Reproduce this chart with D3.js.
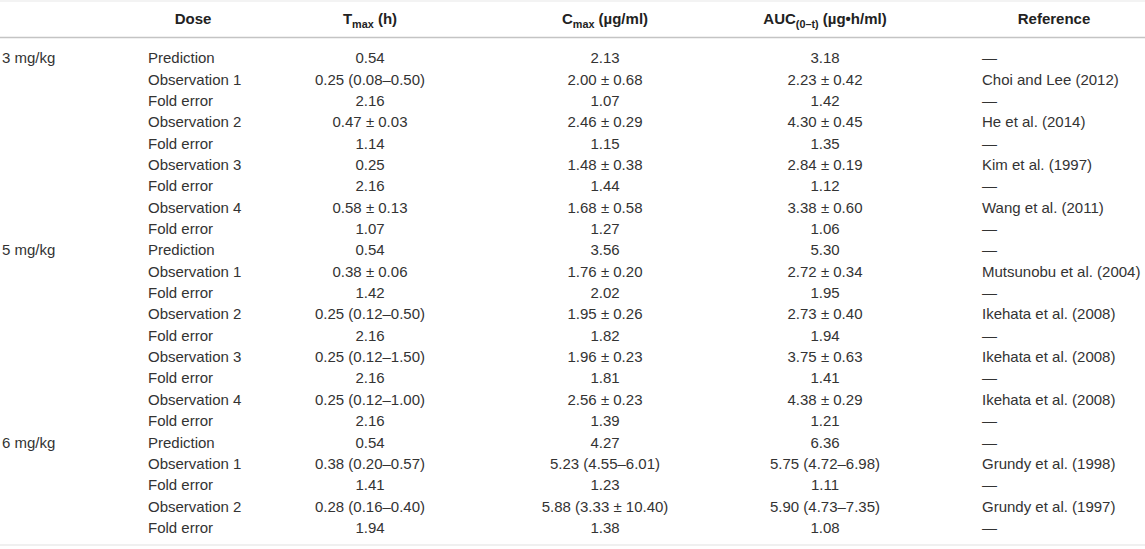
<!DOCTYPE html>
<html>
<head>
<meta charset="utf-8">
<script src="https://cdn.jsdelivr.net/npm/d3@7"></script>
<style>
  html, body { margin: 0; padding: 0; background: #fff; }
  svg text { font-family: "Liberation Sans", Arial, Helvetica, sans-serif; }
</style>
</head>
<body>
<svg id="t" width="1145" height="549"></svg>
<script>
// ---- data ----
const doseGroups = ["3 mg/kg", "", "", "", "", "", "", "", "",
                    "5 mg/kg", "", "", "", "", "", "", "", "",
                    "6 mg/kg", "", "", "", ""];
const doseRows = ["Prediction", "Observation 1", "Fold error", "Observation 2", "Fold error",
                  "Observation 3", "Fold error", "Observation 4", "Fold error",
                  "Prediction", "Observation 1", "Fold error", "Observation 2", "Fold error",
                  "Observation 3", "Fold error", "Observation 4", "Fold error",
                  "Prediction", "Observation 1", "Fold error", "Observation 2", "Fold error"];
const tmax = ["0.54", "0.25 (0.08–0.50)", "2.16", "0.47 ± 0.03", "1.14", "0.25", "2.16", "0.58 ± 0.13", "1.07",
              "0.54", "0.38 ± 0.06", "1.42", "0.25 (0.12–0.50)", "2.16", "0.25 (0.12–1.50)", "2.16", "0.25 (0.12–1.00)", "2.16",
              "0.54", "0.38 (0.20–0.57)", "1.41", "0.28 (0.16–0.40)", "1.94"];
const cmax = ["2.13", "2.00 ± 0.68", "1.07", "2.46 ± 0.29", "1.15", "1.48 ± 0.38", "1.44", "1.68 ± 0.58", "1.27",
              "3.56", "1.76 ± 0.20", "2.02", "1.95 ± 0.26", "1.82", "1.96 ± 0.23", "1.81", "2.56 ± 0.23", "1.39",
              "4.27", "5.23 (4.55–6.01)", "1.23", "5.88 (3.33 ± 10.40)", "1.38"];
const auc = ["3.18", "2.23 ± 0.42", "1.42", "4.30 ± 0.45", "1.35", "2.84 ± 0.19", "1.12", "3.38 ± 0.60", "1.06",
             "5.30", "2.72 ± 0.34", "1.95", "2.73 ± 0.40", "1.94", "3.75 ± 0.63", "1.41", "4.38 ± 0.29", "1.21",
             "6.36", "5.75 (4.72–6.98)", "1.11", "5.90 (4.73–7.35)", "1.08"];
const refs = ["—", "Choi and Lee (2012)", "—", "He et al. (2014)", "—", "Kim et al. (1997)", "—", "Wang et al. (2011)", "—",
              "—", "Mutsunobu et al. (2004)", "—", "Ikehata et al. (2008)", "—", "Ikehata et al. (2008)", "—", "Ikehata et al. (2008)", "—",
              "—", "Grundy et al. (1998)", "—", "Grundy et al. (1997)", "—"];
// header labels: [main, subscript, rest]
const headers = [
  ["", "", ""],
  ["Dose", "", ""],
  ["T", "max", " (h)"],
  ["C", "max", " (µg/ml)"],
  ["AUC", "(0–t)", " (µg•h/ml)"],
  ["Reference", "", ""]
];

// ---- layout ----
const W = 1145, H = 549;
const fontSize = 15;
const textColor = "#333";
const columns = [
  { key: "group", x: 2,   anchor: "start",  hx: 2,    hanchor: "start" },
  { key: "dose",  x: 148, anchor: "start",  hx: 193,  hanchor: "middle" },
  { key: "tmax",  x: 370, anchor: "middle", hx: 370,  hanchor: "middle" },
  { key: "cmax",  x: 605, anchor: "middle", hx: 605,  hanchor: "middle" },
  { key: "auc",   x: 825, anchor: "middle", hx: 825,  hanchor: "middle" },
  { key: "ref",   x: 982, anchor: "start",  hx: 1054, hanchor: "middle" }
];
const colData = { group: doseGroups, dose: doseRows, tmax: tmax, cmax: cmax, auc: auc, ref: refs };

const svg = d3.select("#t");
const n = doseRows.length;
const rowPitch = 21.35;
const y = d3.scaleBand().domain(d3.range(n)).range([47.3, 47.3 + n * rowPitch]).paddingInner(0);

// rules
svg.append("line").attr("x1", 0).attr("x2", W).attr("y1", 1).attr("y2", 1)
  .attr("stroke", "#e8e8e8").attr("stroke-width", 1.2);
svg.append("line").attr("x1", 0).attr("x2", W).attr("y1", 37.5).attr("y2", 37.5)
  .attr("stroke", "#c4c4c4").attr("stroke-width", 1.6);
svg.append("line").attr("x1", 0).attr("x2", W).attr("y1", 545).attr("y2", 545)
  .attr("stroke", "#e2e2e2").attr("stroke-width", 1.2);

// header
const hdr = svg.append("g").attr("class", "header");
columns.forEach((c, i) => {
  const h = headers[i];
  if (!h[0]) return;
  const t = hdr.append("text")
    .attr("x", c.hx).attr("y", 19).attr("dy", "0.35em")
    .attr("text-anchor", c.hanchor)
    .attr("font-size", fontSize).attr("font-weight", "bold")
    .attr("fill", "#222");
  t.append("tspan").text(h[0]);
  if (h[1]) {
    t.append("tspan").attr("font-size", fontSize * 0.72).attr("dy", 4).text(h[1]);
    t.append("tspan").attr("dy", -4).text(h[2]);
  }
});

// body
const body = svg.append("g").attr("class", "body");
columns.forEach(c => {
  body.selectAll("text." + c.key)
    .data(colData[c.key])
    .join("text")
    .attr("class", c.key)
    .attr("x", c.x)
    .attr("y", (d, i) => y(i) + y.bandwidth() / 2)
    .attr("dy", "0.35em")
    .attr("text-anchor", c.anchor)
    .attr("font-size", fontSize)
    .attr("fill", textColor)
    .text(d => d);
});
</script>
</body>
</html>
